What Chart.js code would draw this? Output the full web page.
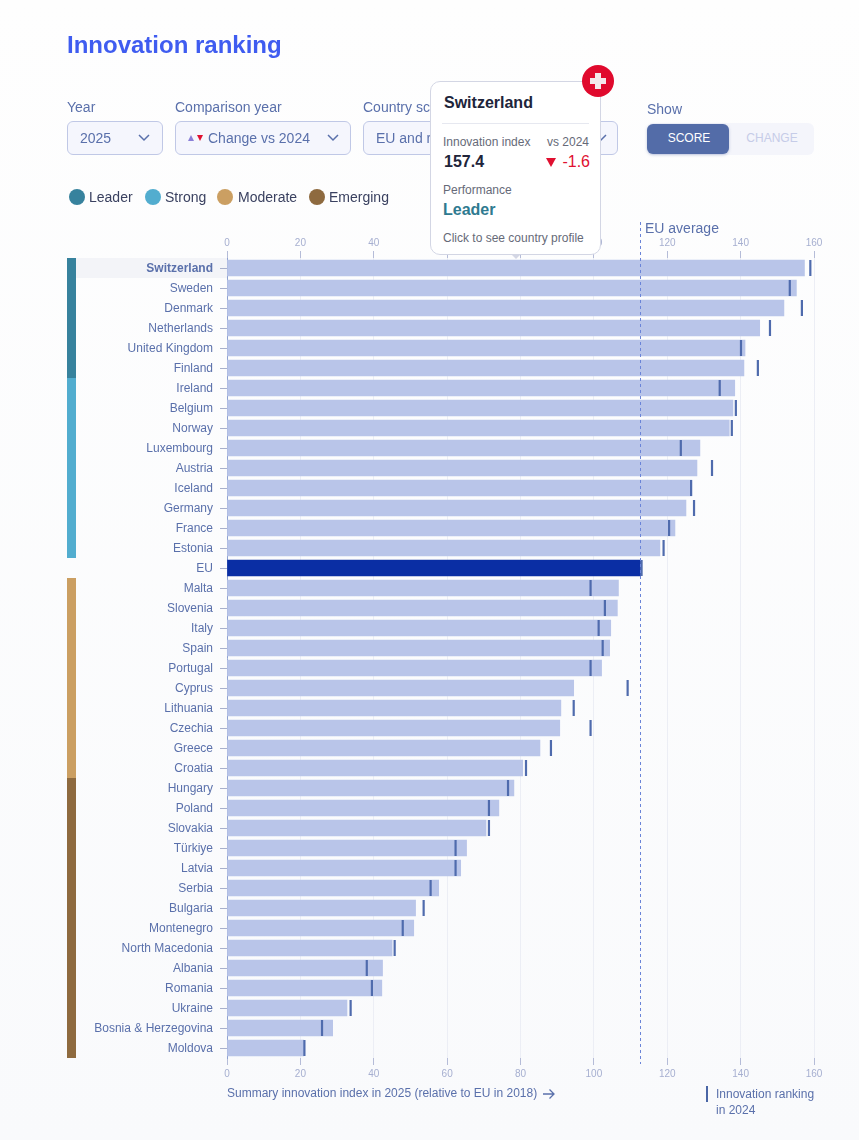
<!DOCTYPE html>
<html><head><meta charset="utf-8">
<script src="https://cdn.jsdelivr.net/npm/chart.js@4"></script>
<style>
html,body{margin:0;padding:0}
body{width:859px;height:1140px;position:relative;overflow:hidden;font-family:"Liberation Sans",Arial,sans-serif;background:linear-gradient(#fefefe,#f9fafc)}
canvas{position:absolute;left:0;top:0}
.t{position:absolute;white-space:nowrap;line-height:16px}
.lab{color:#5a70ab;font-size:14px}
.sel{position:absolute;top:121px;height:32px;border:1px solid #c0c8e6;border-radius:6px;background:#f5f6fd;color:#5a70ab;font-size:14px;line-height:32px;box-sizing:content-box}
.sel span.v{position:absolute;left:12px;white-space:nowrap}
.sel svg{position:absolute;top:12px}
.dot{position:absolute;width:16px;height:16px;border-radius:50%;top:189px}
.leg{color:#3a4160;font-size:14px;top:189px}
#tip{position:absolute;left:430px;top:81px;width:169px;height:172px;background:#fff;border:1px solid #d3d6e4;border-radius:10px;z-index:5}
#tip .t{color:#666a78}
</style></head><body>
<canvas id="c" width="859" height="1140"></canvas>
<div class="t" style="left:67px;top:31px;font-size:24px;line-height:28px;font-weight:700;color:#3f5cf0">Innovation ranking</div>

<div class="t lab" style="left:67px;top:99px">Year</div>
<div class="sel" style="left:67px;width:94px"><span class="v">2025</span><svg width="12" height="8" viewBox="0 0 12 8" style="left:70px"><path d="M1 1l5 5 5-5" fill="none" stroke="#5a70ab" stroke-width="1.5"/></svg></div>
<div class="t lab" style="left:175px;top:99px">Comparison year</div>
<div class="sel" style="left:175px;width:174px"><svg width="16" height="6" viewBox="0 0 16 6" style="left:12px;top:13px"><path d="M0 6L3 0l3 6z" fill="#8a80d8"/><path d="M9 0h6l-3 6z" fill="#e01030"/></svg><span class="v" style="left:32px">Change vs 2024</span><svg width="12" height="8" viewBox="0 0 12 8" style="left:151px"><path d="M1 1l5 5 5-5" fill="none" stroke="#5a70ab" stroke-width="1.5"/></svg></div>
<div class="t lab" style="left:363px;top:99px">Country scope</div>
<div class="sel" style="left:363px;width:253px"><span class="v">EU and related</span><svg width="12" height="8" viewBox="0 0 12 8" style="left:231px"><path d="M1 1l5 5 5-5" fill="none" stroke="#5a70ab" stroke-width="1.5"/></svg></div>

<div class="t lab" style="left:647px;top:101px">Show</div>
<div style="position:absolute;left:647px;top:123px;width:167px;height:32px;background:#f4f5fb;border-radius:6px"></div>
<div class="t" style="left:647px;top:124px;width:82px;height:30px;line-height:28px;background:#536ca8;border-radius:6px;color:#fff;font-size:12px;text-align:center;text-indent:2px;box-shadow:0 1px 3px rgba(80,100,160,.35)">SCORE</div>
<div class="t" style="left:730px;top:124px;width:84px;line-height:28px;color:#c6cce8;font-size:12px;text-align:center">CHANGE</div>

<div class="dot" style="left:69px;background:#37829d"></div><div class="t leg" style="left:89px">Leader</div>
<div class="dot" style="left:145px;background:#52adcf"></div><div class="t leg" style="left:165px">Strong</div>
<div class="dot" style="left:217px;background:#cb9f62"></div><div class="t leg" style="left:238px">Moderate</div>
<div class="dot" style="left:309px;background:#8e6a3f"></div><div class="t leg" style="left:329px">Emerging</div>

<div class="t lab" style="left:645px;top:220px">EU average</div>

<div id="tip">
 <div class="t" style="left:13px;top:13px;font-size:16px;font-weight:700;color:#20243a">Switzerland</div>
 <div style="position:absolute;left:11px;width:147px;top:41px;border-top:1px solid #e6e8f0"></div>
 <div class="t" style="left:12px;top:52px;font-size:12px">Innovation index</div>
 <div class="t" style="right:11px;top:52px;font-size:12px">vs 2024</div>
 <div class="t" style="left:13px;top:72px;font-size:16px;font-weight:700;color:#20243a">157.4</div>
 <div class="t" style="right:10px;top:72px;font-size:16px;color:#e01030"><svg width="10" height="9" viewBox="0 0 10 9" style="margin-right:2px"><path d="M0 0h10L5 9z" fill="#e01030"/></svg> -1.6</div>
 <div class="t" style="left:12px;top:100px;font-size:12px">Performance</div>
 <div class="t" style="left:12px;top:120px;font-size:16px;font-weight:700;color:#2f7a90">Leader</div>
 <div class="t" style="left:12px;top:148px;font-size:12px">Click to see country profile</div>
</div>
<div style="position:absolute;left:511px;top:254px;width:0;height:0;border-left:5px solid transparent;border-right:5px solid transparent;border-top:5px solid #d3d6e4;z-index:4"></div>
<svg width="32" height="32" viewBox="0 0 32 32" style="position:absolute;left:582px;top:65px;z-index:6"><circle cx="16" cy="16" r="16" fill="#e00a2d"/><path d="M13 8h6v5h5v6h-5v5h-6v-5H8v-6h5z" fill="#f4e8ea"/></svg>

<div class="t" style="left:227px;top:1085px;font-size:12px;color:#5a70ab">Summary innovation index in 2025 (relative to EU in 2018)</div>
<svg width="14" height="12" viewBox="0 0 14 12" style="position:absolute;left:542px;top:1088px"><path d="M1 6h11M7.500 1.500L12 6l-4.500 4.500" fill="none" stroke="#5a70ab" stroke-width="1.300"/></svg>
<div style="position:absolute;left:706px;top:1086px;width:2px;height:16px;background:#4a66a6"></div>
<div class="t" style="left:716px;top:1086px;font-size:12px;color:#5a70ab">Innovation ranking</div>
<div class="t" style="left:716px;top:1102px;font-size:12px;color:#5a70ab">in 2024</div>

<script>
const countries = ["Switzerland","Sweden","Denmark","Netherlands","United Kingdom","Finland","Ireland","Belgium","Norway","Luxembourg","Austria","Iceland","Germany","France","Estonia","EU","Malta","Slovenia","Italy","Spain","Portugal","Cyprus","Lithuania","Czechia","Greece","Croatia","Hungary","Poland","Slovakia","Türkiye","Latvia","Serbia","Bulgaria","Montenegro","North Macedonia","Albania","Romania","Ukraine","Bosnia & Herzegovina","Moldova"];
const score2025 = [157.4,155.2,151.8,145.2,141.2,140.9,138.4,137.9,136.9,128.9,128.1,126.7,125.1,122.1,118.0,112.7,106.7,106.4,104.6,104.3,102.1,94.5,91.0,90.7,85.3,80.6,78.2,74.1,70.6,65.3,63.7,57.7,51.4,50.9,45.0,42.4,42.2,32.7,28.8,20.9];
const score2024 = [159.0,153.4,156.7,148.0,140.1,144.7,134.3,138.7,137.6,123.7,132.2,126.5,127.3,120.5,119.0,113.0,99.1,103.0,101.3,102.4,99.1,109.2,94.5,99.1,88.3,81.5,76.6,71.4,71.4,62.3,62.3,55.5,53.6,47.9,45.7,38.1,39.5,33.7,25.9,21.1];
const tiers = ["L","L","L","L","L","L","S","S","S","S","S","S","S","S","S","","M","M","M","M","M","M","M","M","M","M","E","E","E","E","E","E","E","E","E","E","E","E","E","E"];
const tierColors = {L:"#37829d",S:"#52adcf",M:"#cb9f62",E:"#8e6a3f"};
const euAverage = 112.7;
const selected = "Switzerland";

const bandPlugin = {
  id:"bands",
  beforeDraw(ch){
    const {ctx,scales:{y}} = ch;
    ctx.save();
    countries.forEach((c,i)=>{
      const cy = y.getPixelForValue(i);
      if(tiers[i]){ctx.fillStyle = tierColors[tiers[i]];ctx.fillRect(67,cy-10,9,20);}
      if(c===selected){ctx.fillStyle="#f3f4f8";ctx.fillRect(76,cy-10,151,20);}
    });
    ctx.restore();
  },
  afterDatasetsDraw(ch){
    const {ctx,scales:{x},chartArea} = ch;
    const px = Math.round(x.getPixelForValue(euAverage))+0.5;
    ctx.save();
    ctx.strokeStyle="#6a84d8";ctx.lineWidth=1;ctx.setLineDash([3,3]);
    ctx.beginPath();ctx.moveTo(px,222);ctx.lineTo(px,chartArea.bottom+6);ctx.stroke();
    ctx.restore();
  }
};
const tickStyle = {color:"#a6afd0",font:{family:"Liberation Sans",size:10},stepSize:20,maxRotation:0};
Chart.defaults.font.family = "Liberation Sans";
new Chart(document.getElementById("c"),{
  type:"bar",
  plugins:[bandPlugin],
  data:{labels:countries,datasets:[
    {type:"line",indexAxis:"y",label:"2024",data:score2024,showLine:false,pointStyle:"line",pointRotation:90,pointRadius:8,pointBorderWidth:2.2,pointBorderColor:"#4f6bad",borderColor:"#4f6bad",order:0,xAxisID:"x",yAxisID:"y",clip:false},
    {type:"bar",label:"2025",data:score2025,backgroundColor:countries.map(c=>c==="EU"?"#0a2ea4":"#b9c5e9"),barThickness:16,order:1,xAxisID:"x",yAxisID:"y"}
  ]},
  options:{
    indexAxis:"y",responsive:false,animation:false,devicePixelRatio:1,
    layout:{padding:{left:0,right:45,top:0,bottom:0}},
    plugins:{legend:{display:false},tooltip:{enabled:false}},
    scales:{
      x:{type:"linear",position:"top",min:0,max:160,ticks:{...tickStyle,padding:2},
         grid:{color:"#eceef5",tickColor:"#b5bcd8",tickLength:7,lineWidth:1},border:{display:false},
         afterFit(s){s.height=258;}},
      x2:{type:"linear",axis:"x",position:"bottom",min:0,max:160,ticks:{...tickStyle,padding:3},
         grid:{drawOnChartArea:false,tickColor:"#b5bcd8",tickLength:7},border:{display:false},
         afterFit(s){s.height=82;}},
      y:{type:"category",position:"left",
         ticks:{autoSkip:false,padding:7,labelOffset:1,color:"#5a70ab",
           font:c=>({family:"Liberation Sans",size:12,weight:countries[c.index]===selected?"700":"400"})},
         grid:{drawOnChartArea:false,offset:false,tickColor:"#a8b0cc",tickLength:7},
         border:{display:true,color:"#8da0d0",width:1},
         afterFit(s){s.width=227;}}
    }
  }
});
</script>
</body></html>
